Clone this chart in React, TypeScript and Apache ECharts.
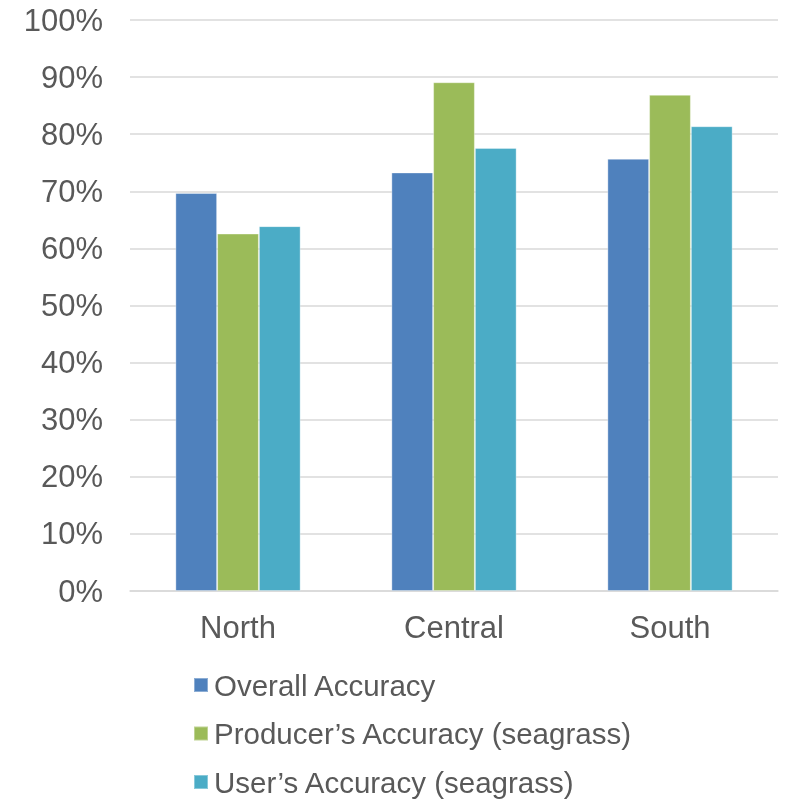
import React, { useEffect, useRef } from "react";
import * as echarts from "echarts";

// Accuracy by region (%)
const regions = ["North", "Central", "South"];
const overallAccuracy = [69.7, 73.3, 75.7];
const producersAccuracy = [62.6, 89.1, 86.9];
const usersAccuracy = [63.9, 77.6, 81.4];
const seriesNames = [
  "Overall Accuracy",
  "Producer\u2019s Accuracy (seagrass)",
  "User\u2019s Accuracy (seagrass)",
];
const seriesColors = ["#4f81bd", "#9bbb59", "#4bacc6"];

const FONT = "'Liberation Sans', Arial, sans-serif";
const TEXT = "#595959";

export default function App() {
  const ref = useRef<HTMLDivElement>(null);

  useEffect(() => {
    if (!ref.current) return;
    const chart = echarts.init(ref.current, null, { renderer: "svg" });
    const values = [overallAccuracy, producersAccuracy, usersAccuracy];
    chart.setOption({
      animation: false,
      textStyle: { fontFamily: FONT },
      grid: { left: 130, right: 12, top: 20, bottom: 212, containLabel: false },
      legend: {
        orient: "vertical",
        left: 193,
        top: 670,
        padding: 0,
        itemWidth: 14,
        itemHeight: 14,
        itemGap: 18.5,
        icon: "rect",
        textStyle: {
          fontFamily: FONT,
          fontSize: 29.5,
          color: TEXT,
          lineHeight: 30,
          padding: [0, 0, 0, 1],
        },
        data: seriesNames,
      },
      xAxis: {
        type: "category",
        data: regions,
        axisLine: { lineStyle: { color: "#d9d9d9", width: 1.5 } },
        axisTick: { show: false },
        axisLabel: { color: TEXT, fontSize: 31, fontFamily: FONT, margin: 21 },
      },
      yAxis: {
        type: "value",
        min: 0,
        max: 100,
        interval: 10,
        axisLine: { show: false },
        axisTick: { show: false },
        axisLabel: {
          color: TEXT,
          fontSize: 31,
          fontFamily: FONT,
          margin: 27,
          formatter: "{value}%",
        },
        splitLine: { lineStyle: { color: "#d9d9d9", width: 1.5 } },
      },
      series: seriesNames.map((name, i) => ({
        name,
        type: "bar",
        data: values[i],
        barGap: "0%",
        barCategoryGap: "42%",
        itemStyle: {
          color: seriesColors[i],
          borderColor: "rgba(255,255,255,0.35)",
          borderWidth: 1,
        },
      })),
    });
    return () => chart.dispose();
  }, []);

  return (
    <div
      ref={ref}
      style={{ position: "fixed", left: 0, top: 0, width: 790, height: 803 }}
    />
  );
}
